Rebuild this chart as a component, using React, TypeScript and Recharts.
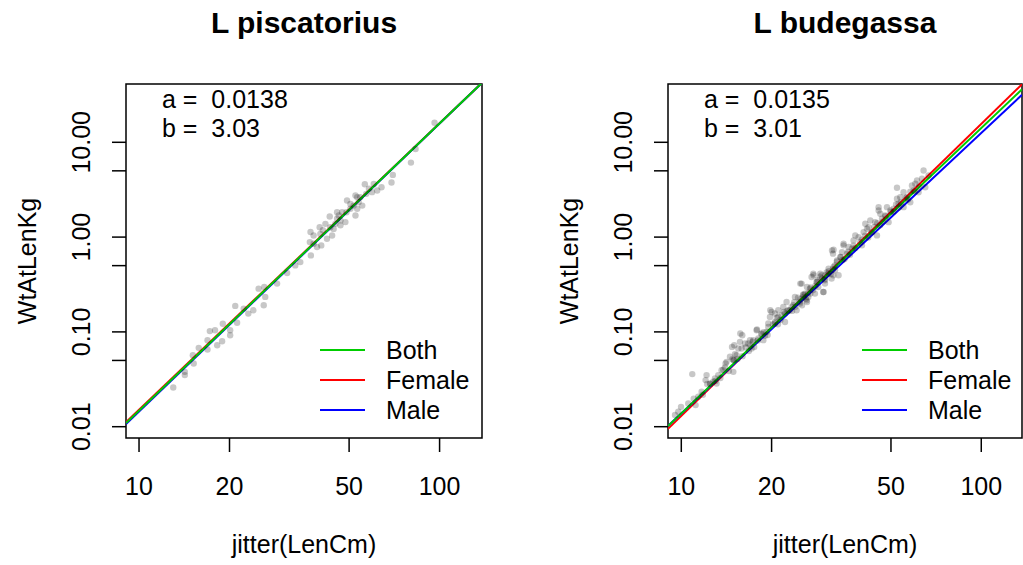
import React from 'react';
import { ComposedChart, XAxis, YAxis, Scatter, Line, ReferenceArea } from 'recharts';

const FONT = "'Liberation Sans', Arial, Helvetica, sans-serif";

const panelTitles = ['L piscatorius', 'L budegassa'];
const xTicks = [10, 20, 50, 100];
const xTickLabels = ['10', '20', '50', '100'];
const yTicks = [0.01, 0.05, 0.1, 0.5, 1, 5, 10];
const yTickLabels = ['0.01', '', '0.10', '', '1.00', '', '10.00'];
const xAxisTitle = 'jitter(LenCm)';
const yAxisTitle = 'WtAtLenKg';
const legendLabels = ['Both', 'Female', 'Male'];
const legendColors = ['#00CD00', '#FF0000', '#0000FF'];

const pisXDomain = [9.05, 138.4];
const budXDomain = [9.03, 136.7];
const yDomain = [0.0076, 41.2];

// fitted W(g) = a * L^b ; order: Both, Female, Male
const pisFitA = [0.0138, 0.01438, 0.01324];
const pisFitB = [3.03, 3.0216, 3.0384];
const budFitA = [0.0135, 0.0108, 0.0151];
const budFitB = [3.01, 3.08, 2.96];

// L piscatorius observations
const pisLen = [
  96.2, 83.2, 80.3, 69.9, 69.2, 64.1, 62.0, 60.4, 56.4, 58.2, 57.0, 54.5, 53.8, 52.5, 51.8, 53.2,
  52.5, 50.5, 49.2, 49.0, 47.4, 46.2, 45.6, 45.0, 46.8, 48.6, 43.1, 43.3, 41.7, 40.9, 40.1, 39.9,
  38.1, 37.2, 37.0, 38.1, 39.1, 40.4, 42.2, 43.9, 37.3, 34.4, 33.1, 31.1, 28.8, 26.1, 25.0, 26.3,
  26.0, 24.0, 23.1, 22.3, 20.9, 21.2, 20.1, 20.1, 19.0, 18.9, 18.2, 17.9, 17.2, 16.9, 16.9, 15.8,
  15.1, 15.2, 14.2, 14.2, 13.0, 45.6, 50.5, 55.3, 59.6, 44.4, 46.8, 53.2,
];
const pisWt = [
  16.1, 8.5, 6.11, 4.53, 3.76, 3.36, 3.1, 3.64, 3.61, 3.23, 2.86, 2.64, 2.34, 2.75, 2.15, 1.99,
  1.69, 1.99, 2.43, 1.83, 1.83, 1.69, 1.56, 1.38, 1.33, 1.44, 1.65, 1.27, 1.38, 1.18, 1.08, 1.27,
  1.04, 1.13, 0.886, 0.851, 0.785, 0.817, 0.96, 1.04, 0.641, 0.545, 0.503, 0.418, 0.323, 0.298, 0.286, 0.234,
  0.191, 0.169, 0.156, 0.176, 0.188, 0.125, 0.104, 0.0922, 0.122, 0.0797, 0.0724, 0.104, 0.102, 0.0817, 0.0652, 0.0679,
  0.0568, 0.0464, 0.035, 0.0379, 0.0259, 1.83, 2.24, 2.15, 2.98, 1.22, 1.5, 2.64,
];

// L budegassa observations
const budLen = [
  9.98, 9.77, 11.16, 10.88, 12.14, 12.05, 12.95, 13.11, 12.78, 14.05, 13.98, 14.91, 15.1, 15.02, 14.91, 15.89,
  15.97, 15.69, 16.94, 17.15, 17.82, 18.06, 18.77, 19.25, 19.5, 20.0, 19.75, 20.52, 21.05, 21.59, 22.17, 21.88,
  22.74, 22.44, 23.62, 23.93, 24.23, 24.87, 25.18, 25.84, 26.16, 26.85, 27.18, 27.9, 28.25, 29.35, 29.73, 30.13,
  30.9, 31.7, 32.54, 20.52, 19.5, 17.38, 16.31, 14.53, 13.62, 13.28, 11.69, 11.39, 10.55, 9.53, 22.17, 25.51,
  26.51, 23.32, 21.05, 18.52, 16.72, 15.29, 15.49, 14.16, 12.46, 28.62, 27.54, 30.13, 32.12, 25.57, 26.24, 27.61,
  29.8, 29.06, 30.97, 32.19, 33.44, 33.88, 34.75, 32.19, 32.04, 35.67, 37.52, 37.07, 39.0, 40.03, 40.53, 41.05,
  42.11, 43.22, 44.91, 44.33, 45.48, 46.67, 47.86, 49.09, 48.49, 51.02, 52.36, 53.0, 52.36, 55.08, 56.53, 57.99,
  58.75, 60.26, 61.8, 64.22, 63.43, 65.06, 66.73, 28.34, 26.92, 30.2, 33.04, 34.33, 36.12, 38.02, 41.59, 42.66,
  46.07, 49.74, 53.7, 55.08, 59.48, 61.06, 26.24, 25.26, 14.76, 15.73, 17.88, 19.8, 24.93, 31.8, 34.75, 45.48,
  18.5, 19.0, 20.5, 21.0, 22.0, 23.0, 24.0, 24.5, 25.0, 26.0, 27.0, 28.0, 29.0, 30.0, 31.0, 32.0,
  33.0, 35.0, 36.0, 38.0, 40.0, 42.0, 44.0, 47.0, 50.0, 53.0, 56.0, 60.0, 12.5, 13.5, 15.0, 16.0,
  17.0, 17.5, 11.0, 11.8, 12.2, 13.0, 13.8, 14.4, 14.8, 15.4, 16.4, 16.8, 17.3, 18.0, 18.8, 19.4,
  20.2, 20.8, 21.4, 22.5, 23.4, 23.8, 24.8, 25.5, 26.5, 27.5, 28.5, 29.5, 30.5, 31.5, 32.5, 34.0,
  34.5, 36.5, 37.5, 39.5, 41.0, 43.0, 45.0, 46.0, 48.0, 51.0, 52.0, 54.0, 57.0, 58.0, 62.0,
];
const budWt = [
  0.0162, 0.0144, 0.0169, 0.0359, 0.035, 0.031, 0.0323, 0.0286, 0.0298, 0.0465, 0.0422, 0.0504, 0.0583, 0.0724, 0.0379, 0.0669,
  0.0923, 0.0785, 0.0818, 0.0669, 0.1042, 0.0852, 0.0818, 0.1, 0.1226, 0.1624, 0.1438, 0.1274, 0.1438, 0.1499, 0.1274, 0.1833,
  0.1692, 0.2069, 0.191, 0.2335, 0.1692, 0.199, 0.3232, 0.2536, 0.2156, 0.2863, 0.3793, 0.2536, 0.336, 0.3953, 0.2637, 0.3232,
  0.4118, 0.3649, 0.4462, 0.1562, 0.1129, 0.0818, 0.0755, 0.0546, 0.0395, 0.035, 0.0234, 0.0207, 0.0176, 0.0133, 0.1562, 0.2434,
  0.2335, 0.1833, 0.1692, 0.0962, 0.0755, 0.0568, 0.0669, 0.0483, 0.0286, 0.2976, 0.4118, 0.35, 0.3953, 0.2335, 0.2976, 0.3953,
  0.2637, 0.4118, 0.4649, 0.4834, 0.3953, 0.616, 0.852, 0.737, 0.669, 0.669, 0.923, 0.755, 1.0, 0.818, 1.129, 1.384,
  1.274, 1.129, 1.042, 1.438, 1.91, 1.562, 1.692, 1.438, 2.069, 1.99, 2.536, 2.247, 3.311, 2.069, 2.637, 2.335,
  3.5, 3.649, 2.976, 5.036, 4.118, 3.36, 4.462, 0.336, 0.2536, 0.3953, 0.568, 0.695, 0.785, 1.042, 1.226, 1.499,
  1.763, 1.91, 2.637, 2.976, 3.101, 3.953, 0.2069, 0.191, 0.0695, 0.0962, 0.106, 0.1692, 0.3232, 0.724, 0.818, 2.069,
  0.0943, 0.0911, 0.1227, 0.1202, 0.1625, 0.1694, 0.1839, 0.23, 0.2228, 0.2236, 0.2943, 0.3064, 0.3821, 0.3601, 0.4359, 0.4578,
  0.5508, 0.5861, 0.6997, 0.7683, 0.9389, 0.991, 1.28, 1.457, 1.838, 2.044, 2.585, 3.039, 0.0283, 0.0326, 0.0502, 0.0555,
  0.0714, 0.0694, 0.01972, 0.02171, 0.02821, 0.03042, 0.03995, 0.03866, 0.05162, 0.05184, 0.06867, 0.06287, 0.07882, 0.08104, 0.09899, 0.09261,
  0.1201, 0.1405, 0.1333, 0.1661, 0.1665, 0.206, 0.2078, 0.2476, 0.2596, 0.2771, 0.3541, 0.3667, 0.4246, 0.4076, 0.5025, 0.6168,
  0.5743, 0.6498, 0.8091, 0.8833, 1.035, 1.115, 1.401, 1.335, 1.663, 1.863, 2.216, 2.316, 2.487, 3.007, 3.43,
];

const TICK_FS = 25;

const XTick = (props: any) => {
  const { x, y, payload } = props;
  const i = xTicks.indexOf(payload.value);
  return (
    <text x={x} y={y + 41} textAnchor="middle" fontSize={TICK_FS} fontFamily={FONT} fill="#000">
      {i >= 0 ? xTickLabels[i] : ''}
    </text>
  );
};

const YTick = (props: any) => {
  const { x, y, payload } = props;
  const i = yTicks.indexOf(payload.value);
  const bx = x - 20;
  return (
    <text
      x={bx}
      y={y}
      transform={`rotate(-90, ${bx}, ${y})`}
      textAnchor="middle"
      fontSize={TICK_FS}
      fontFamily={FONT}
      fill="#000"
    >
      {i >= 0 ? yTickLabels[i] : ''}
    </text>
  );
};

const Dot = (p: any) => <circle cx={p.cx} cy={p.cy} r={3.2} fill="#000" fillOpacity={0.22} />;

const axisStroke = { stroke: '#000', strokeWidth: 1.5 };

function Panel(props: any) {
  const { left, width, yAxisWidth, marginRight, title, lens, wts, xDomain, fitA, fitB } = props;
  const height = 565;
  const pts = lens.map((len: number, i: number) => ({ len, w: wts[i] }));
  const fit = (k: number) =>
    xDomain.map((len: number) => ({ len, w: (fitA[k] * Math.pow(len, fitB[k])) / 1000 }));
  const plotLeft = yAxisWidth;
  const plotRight = width - marginRight;
  const cx = (plotLeft + plotRight) / 2;
  const midY = (84 + 438) / 2;
  const lineOrder = [1, 2, 0];
  return (
    <div style={{ position: 'absolute', left, top: 0, width, height }}>
      <ComposedChart
        width={width}
        height={height}
        margin={{ top: 84, right: marginRight, bottom: 0, left: 0 }}
      >
        <XAxis
          dataKey="len"
          type="number"
          scale="log"
          domain={xDomain}
          allowDataOverflow
          ticks={xTicks}
          interval={0}
          height={127}
          tickSize={14}
          tickLine={axisStroke}
          axisLine={false}
          tick={<XTick />}
        />
        <YAxis
          dataKey="w"
          type="number"
          scale="log"
          domain={yDomain}
          allowDataOverflow
          ticks={yTicks}
          interval={0}
          width={yAxisWidth}
          tickSize={14}
          tickLine={axisStroke}
          axisLine={false}
          tick={<YTick />}
        />
        <Scatter data={pts} dataKey="w" shape={<Dot />} isAnimationActive={false} />
        {lineOrder.map((k) => (
          <Line
            key={k}
            data={fit(k)}
            dataKey="w"
            type="linear"
            dot={false}
            activeDot={false}
            stroke={legendColors[k]}
            strokeWidth={2}
            isAnimationActive={false}
          />
        ))}
        <ReferenceArea
          x1={xDomain[0]}
          x2={xDomain[1]}
          y1={yDomain[0]}
          y2={yDomain[1]}
          ifOverflow="visible"
          fill="none"
          fillOpacity={0}
          stroke="#000"
          strokeWidth={1.5}
          strokeOpacity={1}
        />
        <g fontFamily={FONT} fill="#000">
          <text x={cx} y={33} textAnchor="middle" fontSize={30} fontWeight="bold">{title}</text>
          <text x={cx} y={553} textAnchor="middle" fontSize={25}>{xAxisTitle}</text>
          <text
            x={plotLeft - 90}
            y={midY}
            transform={`rotate(-90, ${plotLeft - 90}, ${midY})`}
            textAnchor="middle"
            fontSize={25}
          >
            {yAxisTitle}
          </text>
          <text x={plotLeft + 36} y={108} fontSize={25} style={{ whiteSpace: 'pre' }}>
            {`a =  ${fitA[0].toFixed(4)}`}
          </text>
          <text x={plotLeft + 36} y={137} fontSize={25} style={{ whiteSpace: 'pre' }}>
            {`b =  ${fitB[0].toFixed(2)}`}
          </text>
          {legendLabels.map((lab, k) => (
            <g key={lab}>
              <line
                x1={plotLeft + 194}
                x2={plotLeft + 239}
                y1={350 + 30 * k}
                y2={350 + 30 * k}
                stroke={legendColors[k]}
                strokeWidth={2}
              />
              <text x={plotLeft + 260} y={359 + 30 * k} fontSize={25}>{lab}</text>
            </g>
          ))}
        </g>
      </ComposedChart>
    </div>
  );
}

export default function App() {
  return (
    <div style={{ position: 'absolute', left: 0, top: 0, width: 1023, height: 565, background: '#fff' }}>
      <Panel
        left={0}
        width={511}
        yAxisWidth={126}
        marginRight={29}
        title={panelTitles[0]}
        lens={pisLen}
        wts={pisWt}
        xDomain={pisXDomain}
        fitA={pisFitA}
        fitB={pisFitB}
      />
      <Panel
        left={540}
        width={483}
        yAxisWidth={128}
        marginRight={1}
        title={panelTitles[1]}
        lens={budLen}
        wts={budWt}
        xDomain={budXDomain}
        fitA={budFitA}
        fitB={budFitB}
      />
    </div>
  );
}
